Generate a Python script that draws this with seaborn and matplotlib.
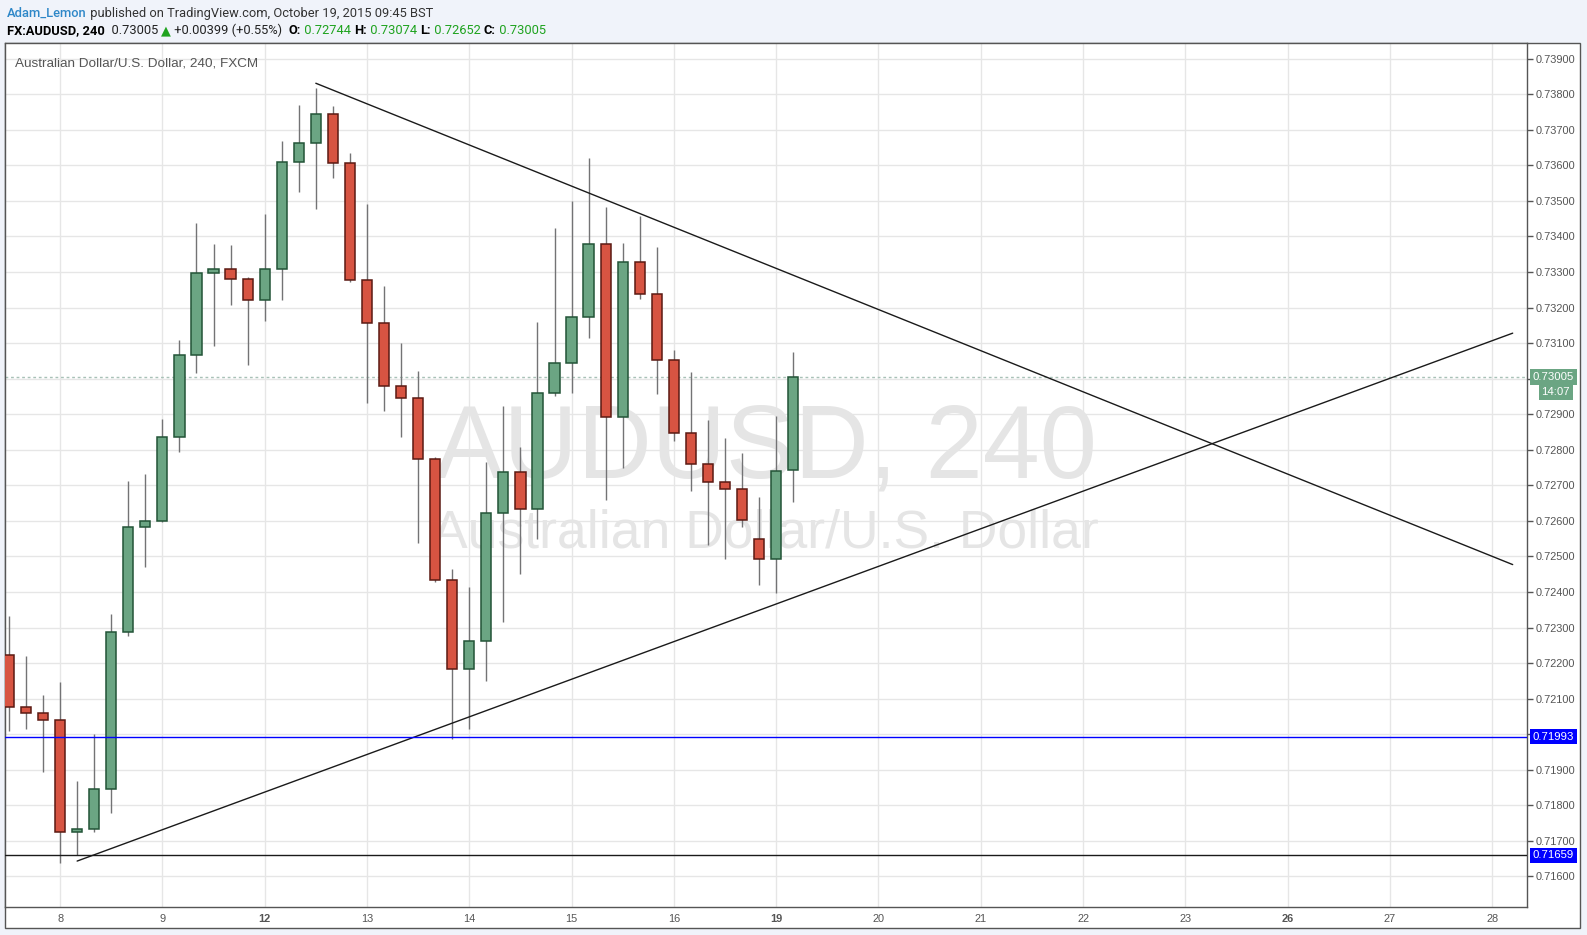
import numpy as np
import pandas as pd
import seaborn as sns
import matplotlib.pyplot as plt
from matplotlib.patches import Rectangle

## AUDUSD 4h candles, Oct 8 - Oct 19 2015
opens = [0.72222, 0.72077, 0.72059, 0.72039, 0.71724, 0.71732, 0.71845, 0.72287,
         0.72582, 0.72599, 0.72835, 0.73066, 0.73296, 0.73309, 0.73279, 0.73221,
         0.73308, 0.73609, 0.73662, 0.73744, 0.73606, 0.73277, 0.73156, 0.72978,
         0.72945, 0.72773, 0.72433, 0.72182, 0.72262, 0.72621, 0.72737, 0.72632,
         0.72959, 0.73043, 0.73174, 0.73378, 0.72891, 0.73327, 0.73237, 0.73052,
         0.72846, 0.72759, 0.72708, 0.72689, 0.72548, 0.72492, 0.72744]
highs = [0.72332, 0.72220, 0.72110, 0.72148, 0.71868, 0.72000, 0.72338, 0.72712,
         0.72732, 0.72886, 0.73109, 0.73437, 0.73379, 0.73376, 0.73285, 0.73463,
         0.73668, 0.73770, 0.73817, 0.73767, 0.73634, 0.73491, 0.73261, 0.73100,
         0.73021, 0.72780, 0.72464, 0.72415, 0.72766, 0.72923, 0.72809, 0.73159,
         0.73425, 0.73500, 0.73620, 0.73484, 0.73381, 0.73457, 0.73369, 0.73081,
         0.73019, 0.72884, 0.72832, 0.72791, 0.72667, 0.72895, 0.73074]
lows = [0.72010, 0.72014, 0.71894, 0.71638, 0.71659, 0.71726, 0.71779, 0.72277,
        0.72471, 0.72596, 0.72795, 0.73017, 0.73093, 0.73208, 0.73039, 0.73163,
        0.73222, 0.73526, 0.73476, 0.73565, 0.73271, 0.72932, 0.72910, 0.72837,
        0.72537, 0.72429, 0.71985, 0.72015, 0.72150, 0.72316, 0.72451, 0.72550,
        0.72950, 0.72960, 0.73115, 0.72658, 0.72748, 0.73225, 0.72957, 0.72825,
        0.72685, 0.72532, 0.72494, 0.72584, 0.72420, 0.72396, 0.72652]
closes = [0.72077, 0.72059, 0.72039, 0.71724, 0.71732, 0.71845, 0.72287, 0.72582,
          0.72599, 0.72835, 0.73066, 0.73296, 0.73309, 0.73279, 0.73221, 0.73308,
          0.73609, 0.73662, 0.73744, 0.73606, 0.73277, 0.73156, 0.72978, 0.72945,
          0.72773, 0.72433, 0.72182, 0.72262, 0.72621, 0.72737, 0.72632, 0.72959,
          0.73043, 0.73174, 0.73378, 0.72891, 0.73327, 0.73237, 0.73052, 0.72846,
          0.72759, 0.72708, 0.72689, 0.72602, 0.72492, 0.72739, 0.73005]

## day labels on the time axis (6 bars per day, weekends skipped)
day_labels = ['8', '9', '12', '13', '14', '15', '16', '19', '20', '21', '22', '23', '26', '27', '28']
day_bars = [3, 9, 15, 21, 27, 33, 39, 45, 51, 57, 63, 69, 75, 81, 87]
bold_days = ['12', '19', '26']

## drawn lines
support_levels = [0.71993, 0.71659]
last_price = 0.73005
upper_trend_x = [18, 88.2]
upper_trend_y = [0.73831, 0.72477]
lower_trend_x = [4.0, 88.2]
lower_trend_y = [0.71643, 0.73128]

df = pd.DataFrame({'open': opens, 'high': highs, 'low': lows, 'close': closes})
df['bar'] = np.arange(len(df))
df['up'] = df['close'] >= df['open']

sns.set_style('white')
plt.rcParams['font.family'] = ['Liberation Sans', 'DejaVu Sans']
head_font = ['Roboto', 'Liberation Sans', 'DejaVu Sans']

fig = plt.figure(figsize=(15.87, 9.35), dpi=100)
fig.patch.set_facecolor('#f0f3fa')
W, H = 1587.0, 935.0

# white chart frame (plot + scale areas)
frame = Rectangle((4.5 / W, 1 - 928 / H), (1580 - 4.5) / W, (928 - 43) / H,
                  transform=fig.transFigure, facecolor='white',
                  edgecolor='#555555', linewidth=1, zorder=-10)
fig.patches.append(frame)

ax = fig.add_axes([4.5 / W, 1 - 907 / H, (1527 - 4.5) / W, (907 - 43) / H])
ax.set_facecolor('white')

# grid
ygrid = np.round(np.arange(0.716, 0.7395, 0.001), 3)
for g in ygrid:
    ax.axhline(g, color='#e6e6e6', lw=1, zorder=0)
for b in day_bars:
    ax.axvline(b, color='#e6e6e6', lw=1, zorder=0)

# candles
green_fill, green_edge = '#6ba583', '#225437'
red_fill, red_edge = '#d75442', '#5b1a13'
ax.vlines(df['bar'], df['low'], df['high'], color='#737375', lw=1, zorder=2)
body_bottom = df[['open', 'close']].min(axis=1)
body_h = (df['close'] - df['open']).abs()
ax.bar(df['bar'], body_h, bottom=body_bottom, width=0.6,
       color=np.where(df['up'], green_fill, red_fill),
       edgecolor=np.where(df['up'], green_edge, red_edge), linewidth=1.1, zorder=3)

# trend lines
sns.lineplot(x=upper_trend_x, y=upper_trend_y, ax=ax, color='#1a1a1a', lw=1, zorder=4)
sns.lineplot(x=lower_trend_x, y=lower_trend_y, ax=ax, color='#1a1a1a', lw=1, zorder=4)

# horizontal levels
ax.axhline(support_levels[0], color='#0000ff', lw=1, zorder=4)
ax.axhline(support_levels[1], color='#1a1a1a', lw=1, zorder=4)
ax.axhline(last_price, color='#a8c1b7', lw=1, ls=(0, (2, 2)), zorder=1)

ax.set_xlim(-0.26, 89.04)
ax.set_ylim(0.715138, 0.739442)

# watermark
ax.text(0.5, 0.497, 'AUDUSD, 240', transform=ax.transAxes, ha='center', va='baseline',
        fontsize=74, color='#e5e5e5', zorder=1)
ax.text(0.5, 0.416, 'Australian Dollar/U.S. Dollar', transform=ax.transAxes, ha='center',
        va='baseline', fontsize=38.5, color='#e5e5e5', zorder=1)
ax.text(10 / 1522, 1 - 15 / 864, 'Australian Dollar/U.S. Dollar, 240, FXCM', transform=ax.transAxes,
        ha='left', va='top', fontsize=9.7, color='#555555')

# axes styling
for s in ax.spines.values():
    s.set_color('#555555')
    s.set_linewidth(1)
ax.yaxis.tick_right()
ax.set_yticks(ygrid)
ax.set_yticklabels(['' if round(v, 3) in (0.730, 0.720) else f'{v:.5f}' for v in ygrid])
ax.tick_params(axis='y', direction='out', length=4, width=1, color='#555555',
               labelsize=7.9, labelcolor='#555555', pad=2)
ax.set_xticks(day_bars)
ax.set_xticklabels(day_labels)
ax.tick_params(axis='x', length=0, labelsize=7.9, labelcolor='#555555', pad=5)
for lbl in ax.get_xticklabels():
    if lbl.get_text() in bold_days:
        lbl.set_fontweight('bold')
ax.set_xlabel('')
ax.set_ylabel('')

# price boxes on the scale
yax = ax.get_yaxis_transform()
for lvl, fc in [(support_levels[0], '#0000ff'), (support_levels[1], '#0000ff'), (last_price, '#6ba583')]:
    ax.annotate(f'{lvl:.5f}', xy=(1, lvl), xycoords=yax, xytext=(4, 0), textcoords='offset points',
                ha='left', va='center', fontsize=8.2, color='white', annotation_clip=False,
                bbox=dict(boxstyle='square,pad=0.25', fc=fc, ec='none'))
ax.annotate('14:07', xy=(1, last_price), xycoords=yax, xytext=(10.5, -11), textcoords='offset points',
            ha='left', va='center', fontsize=8.2, color='white', annotation_clip=False,
            bbox=dict(boxstyle='square,pad=0.25', fc='#6ba583', ec='none'))

# header
t1 = fig.text(7 / W, 1 - 17 / H, 'Adam_Lemon', color='#2e87c8', fontsize=9.3, va='baseline',
              ha='left', family=head_font, fontweight='medium')
ax.annotate(' published on TradingView.com, October 19, 2015 09:45 BST', xy=(1, 0), xycoords=t1,
            va='bottom', ha='left', fontsize=9.3, color='#333333', annotation_clip=False,
            family=head_font)

parts = [('FX:AUDUSD, 240', 'black', 'bold'), ('  0.73005 ', '#222222', 'normal'),
         ('\u25b2', '#1fa31f', 'normal'), (' +0.00399 (+0.55%)  ', '#222222', 'normal'),
         ('O:', 'black', 'bold'), (' 0.72744 ', '#1fa31f', 'normal'),
         ('H:', 'black', 'bold'), (' 0.73074 ', '#1fa31f', 'normal'),
         ('L:', 'black', 'bold'), (' 0.72652 ', '#1fa31f', 'normal'),
         ('C:', 'black', 'bold'), (' 0.73005', '#1fa31f', 'normal')]
prev = fig.text(7 / W, 1 - 34 / H, parts[0][0], color=parts[0][1], fontweight=parts[0][2],
                fontsize=9.3, va='baseline', ha='left', family=head_font)
for txt, col, wt in parts[1:]:
    fam = ['DejaVu Sans'] if txt == '\u25b2' else head_font
    prev = ax.annotate(txt, xy=(1, 0), xycoords=prev, va='bottom', ha='left', fontsize=9.3,
                       color=col, fontweight=wt, annotation_clip=False, family=fam)

plt.savefig('out.png', dpi=100, facecolor=fig.get_facecolor())
plt.close()
